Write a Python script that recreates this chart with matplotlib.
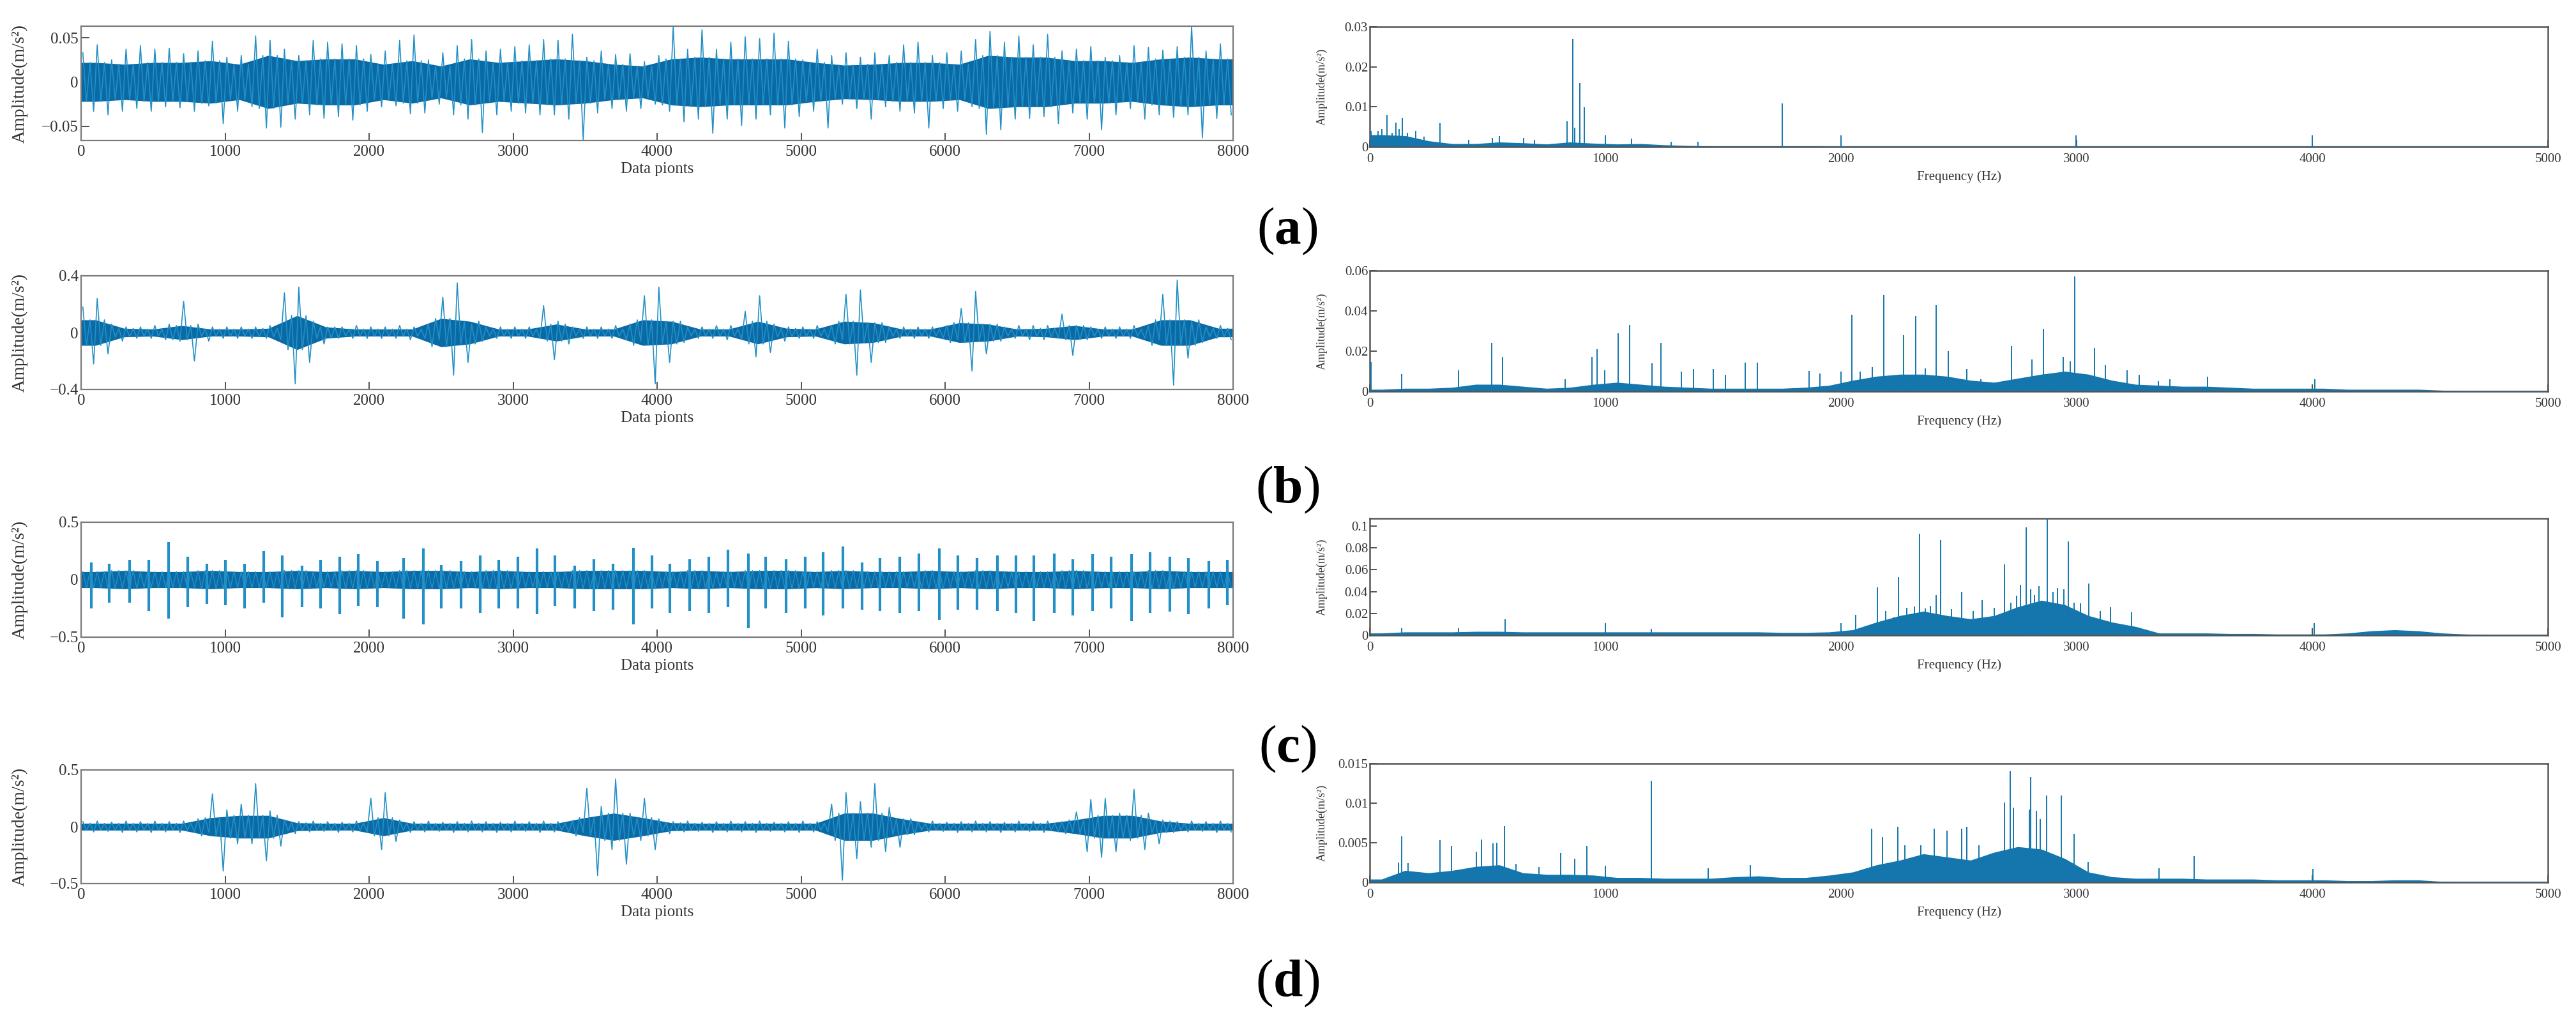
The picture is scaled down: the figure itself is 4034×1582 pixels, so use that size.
import numpy as np
import matplotlib
matplotlib.use("Agg")
import matplotlib.pyplot as plt
from matplotlib.ticker import FixedLocator, FixedFormatter

plt.rcParams['font.family'] = ['Liberation Serif', 'DejaVu Serif']
plt.rcParams['mathtext.fontset'] = 'custom'
plt.rcParams['mathtext.rm'] = 'Liberation Serif'
plt.rcParams['mathtext.bf'] = 'Liberation Serif:bold'

# ------------------------------------------------------------------
# DATA
# ------------------------------------------------------------------
BIN = 100      # data points per bin of the time-signal extremes
CBIN = 200     # data points per bin of the dense core band

# (a) normal condition: per-bin max / min and core band half-height
a_hi = [0.033, 0.042, 0.025, 0.037, 0.041, 0.037, 0.038, 0.032, 0.035, 0.046,
        0.028, 0.030, 0.052, 0.047, 0.037, 0.030, 0.047, 0.045, 0.043, 0.041,
        0.031, 0.035, 0.047, 0.053, 0.025, 0.033, 0.041, 0.048, 0.035, 0.037,
        0.040, 0.042, 0.048, 0.047, 0.054, 0.028, 0.035, 0.031, 0.032, 0.023,
        0.030, 0.063, 0.037, 0.059, 0.037, 0.045, 0.051, 0.049, 0.055, 0.046,
        0.025, 0.037, 0.030, 0.033, 0.028, 0.033, 0.030, 0.042, 0.045, 0.030,
        0.033, 0.035, 0.048, 0.057, 0.045, 0.052, 0.042, 0.054, 0.035, 0.037,
        0.040, 0.028, 0.030, 0.041, 0.039, 0.036, 0.040, 0.063, 0.035, 0.043]
a_lo = [-0.033, -0.037, -0.033, -0.030, -0.033, -0.028, -0.029, -0.033, -0.027, -0.047,
        -0.033, -0.028, -0.052, -0.051, -0.042, -0.037, -0.041, -0.039, -0.043, -0.033,
        -0.028, -0.027, -0.036, -0.035, -0.025, -0.037, -0.042, -0.057, -0.037, -0.033,
        -0.035, -0.037, -0.037, -0.042, -0.065, -0.035, -0.030, -0.033, -0.030, -0.025,
        -0.033, -0.045, -0.042, -0.058, -0.042, -0.049, -0.042, -0.037, -0.052, -0.039,
        -0.033, -0.052, -0.025, -0.030, -0.042, -0.028, -0.033, -0.035, -0.052, -0.030,
        -0.033, -0.028, -0.059, -0.054, -0.042, -0.041, -0.039, -0.047, -0.035, -0.042,
        -0.054, -0.037, -0.030, -0.042, -0.037, -0.040, -0.037, -0.063, -0.041, -0.037]
a_core = [0.022, 0.020, 0.022, 0.022, 0.024, 0.020, 0.030, 0.024, 0.026, 0.026,
          0.020, 0.024, 0.018, 0.026, 0.022, 0.024, 0.026, 0.024, 0.020, 0.018,
          0.026, 0.028, 0.026, 0.026, 0.026, 0.022, 0.019, 0.020, 0.022, 0.022,
          0.020, 0.030, 0.028, 0.028, 0.024, 0.024, 0.022, 0.026, 0.028, 0.026]

# (b)
b_hi = [0.18, 0.24, 0.06, 0.04, 0.04, 0.05, 0.06, 0.22, 0.06, 0.04,
        0.04, 0.04, 0.04, 0.05, 0.28, 0.32, 0.08, 0.04, 0.04, 0.05,
        0.04, 0.04, 0.05, 0.04, 0.06, 0.25, 0.35, 0.06, 0.04, 0.04,
        0.04, 0.04, 0.19, 0.08, 0.04, 0.04, 0.04, 0.05, 0.06, 0.26,
        0.32, 0.08, 0.04, 0.04, 0.05, 0.05, 0.15, 0.26, 0.06, 0.04,
        0.04, 0.05, 0.05, 0.27, 0.30, 0.07, 0.04, 0.04, 0.04, 0.04,
        0.05, 0.17, 0.29, 0.06, 0.04, 0.05, 0.05, 0.05, 0.13, 0.05,
        0.04, 0.04, 0.04, 0.05, 0.05, 0.27, 0.37, 0.08, 0.04, 0.05]
b_lo = [-0.22, -0.15, -0.06, -0.04, -0.04, -0.05, -0.06, -0.20, -0.06, -0.04,
        -0.04, -0.04, -0.04, -0.05, -0.36, -0.21, -0.08, -0.04, -0.04, -0.04,
        -0.04, -0.04, -0.05, -0.04, -0.05, -0.30, -0.21, -0.06, -0.04, -0.04,
        -0.04, -0.04, -0.19, -0.08, -0.04, -0.04, -0.04, -0.05, -0.06, -0.36,
        -0.21, -0.07, -0.04, -0.04, -0.05, -0.05, -0.17, -0.14, -0.06, -0.04,
        -0.04, -0.04, -0.05, -0.30, -0.21, -0.07, -0.04, -0.04, -0.04, -0.04,
        -0.05, -0.27, -0.15, -0.06, -0.04, -0.05, -0.05, -0.04, -0.16, -0.05,
        -0.04, -0.04, -0.04, -0.04, -0.05, -0.37, -0.18, -0.07, -0.04, -0.05]
b_core = [0.09, 0.03, 0.025, 0.05, 0.025, 0.025, 0.03, 0.12, 0.04, 0.025,
          0.025, 0.025, 0.10, 0.08, 0.025, 0.025, 0.06, 0.025, 0.025, 0.09,
          0.08, 0.025, 0.025, 0.08, 0.03, 0.025, 0.08, 0.07, 0.025, 0.025,
          0.07, 0.06, 0.025, 0.03, 0.05, 0.025, 0.025, 0.09, 0.09, 0.03]

# (c) periodic impulses: position, positive peak, negative peak
c_imp_pos = [73, 197, 339, 468, 609, 739, 875, 1004, 1134, 1269,
             1399, 1535, 1664, 1794, 1924, 2059, 2240, 2375, 2499, 2640,
             2770, 2900, 3035, 3165, 3289, 3430, 3560, 3695, 3837, 3966,
             4090, 4226, 4361, 4491, 4632, 4756, 4897, 5027, 5151, 5292,
             5422, 5546, 5687, 5817, 5958, 6088, 6223, 6364, 6494, 6618,
             6759, 6889, 7024, 7154, 7295, 7425, 7560, 7690, 7831, 7961]
c_imp_up = [0.15, 0.14, 0.17, 0.17, 0.33, 0.20, 0.14, 0.17, 0.14, 0.25,
            0.21, 0.12, 0.17, 0.20, 0.22, 0.16, 0.19, 0.27, 0.13, 0.16,
            0.21, 0.17, 0.20, 0.27, 0.21, 0.12, 0.18, 0.14, 0.28, 0.21,
            0.14, 0.18, 0.20, 0.26, 0.23, 0.20, 0.18, 0.20, 0.24, 0.29,
            0.15, 0.19, 0.20, 0.23, 0.27, 0.21, 0.19, 0.21, 0.21, 0.21,
            0.23, 0.18, 0.22, 0.20, 0.22, 0.24, 0.20, 0.19, 0.16, 0.17]
c_imp_dn = [-0.25, -0.20, -0.20, -0.27, -0.34, -0.24, -0.21, -0.22, -0.25, -0.20,
            -0.33, -0.24, -0.25, -0.30, -0.23, -0.24, -0.34, -0.39, -0.25, -0.25,
            -0.29, -0.25, -0.25, -0.30, -0.23, -0.25, -0.27, -0.26, -0.39, -0.25,
            -0.29, -0.27, -0.29, -0.24, -0.42, -0.25, -0.29, -0.25, -0.31, -0.25,
            -0.26, -0.27, -0.29, -0.27, -0.35, -0.26, -0.26, -0.27, -0.29, -0.36,
            -0.29, -0.31, -0.27, -0.25, -0.36, -0.29, -0.28, -0.30, -0.25, -0.22]
c_core = [0.07, 0.08, 0.07, 0.07, 0.08, 0.07, 0.07, 0.08, 0.07, 0.08,
          0.07, 0.08, 0.08, 0.07, 0.08, 0.07, 0.07, 0.08, 0.08, 0.08,
          0.07, 0.08, 0.07, 0.08, 0.08, 0.07, 0.08, 0.07, 0.07, 0.08,
          0.07, 0.08, 0.07, 0.07, 0.08, 0.07, 0.07, 0.08, 0.07, 0.07]

# (d)
d_hi = [0.045, 0.05, 0.04, 0.05, 0.045, 0.05, 0.045, 0.05, 0.07, 0.29,
        0.15, 0.20, 0.38, 0.14, 0.06, 0.045, 0.05, 0.045, 0.04, 0.05,
        0.25, 0.30, 0.06, 0.045, 0.05, 0.04, 0.045, 0.05, 0.045, 0.04,
        0.05, 0.045, 0.05, 0.045, 0.05, 0.34, 0.18, 0.42, 0.12, 0.25,
        0.07, 0.045, 0.05, 0.04, 0.045, 0.05, 0.045, 0.05, 0.04, 0.045,
        0.05, 0.045, 0.20, 0.30, 0.22, 0.38, 0.17, 0.07, 0.045, 0.05,
        0.04, 0.045, 0.05, 0.045, 0.04, 0.05, 0.045, 0.05, 0.045, 0.13,
        0.24, 0.25, 0.12, 0.33, 0.12, 0.06, 0.045, 0.05, 0.045, 0.05]
d_lo = [-0.045, -0.04, -0.05, -0.045, -0.05, -0.045, -0.05, -0.045, -0.05, -0.39,
        -0.15, -0.15, -0.30, -0.17, -0.06, -0.045, -0.04, -0.05, -0.045, -0.045,
        -0.20, -0.13, -0.05, -0.045, -0.04, -0.05, -0.045, -0.045, -0.05, -0.045,
        -0.04, -0.05, -0.045, -0.045, -0.05, -0.43, -0.20, -0.33, -0.12, -0.20,
        -0.06, -0.045, -0.04, -0.05, -0.045, -0.045, -0.05, -0.04, -0.045, -0.05,
        -0.045, -0.045, -0.47, -0.28, -0.18, -0.22, -0.18, -0.07, -0.045, -0.04,
        -0.05, -0.045, -0.045, -0.05, -0.045, -0.04, -0.05, -0.045, -0.045, -0.22,
        -0.27, -0.22, -0.12, -0.20, -0.15, -0.05, -0.045, -0.04, -0.05, -0.045]
d_core = [0.03, 0.03, 0.03, 0.03, 0.08, 0.10, 0.10, 0.035, 0.03, 0.03,
          0.08, 0.03, 0.03, 0.03, 0.03, 0.03, 0.03, 0.08, 0.12, 0.08,
          0.035, 0.03, 0.03, 0.03, 0.03, 0.03, 0.12, 0.12, 0.07, 0.03,
          0.03, 0.03, 0.03, 0.03, 0.06, 0.10, 0.10, 0.05, 0.03, 0.03]

# Spectra: dense floor per 100 Hz bin + discrete peaks (Hz, m/s^2)
FBIN = 100
fa_floor = [0.0030, 0.0028, 0.0015, 0.0008, 0.0008, 0.0012, 0.0010, 0.0007, 0.0012, 0.0009,
            0.0007, 0.0008, 0.0005, 0.0003, 0.0002, 0.0002, 0.0002, 0.0002, 0.0002, 0.0001,
            0.0001, 0.0001, 0.0001, 0.0001, 0.0001, 0.0001, 0.0001, 0.0001, 0.0001, 0.0001,
            0.0001, 0.0001, 0.0001, 0.0001, 0.0001, 0.0001, 0.0001, 0.0001, 0.0001, 0.0001,
            0.0001, 0.0001, 0.0001, 0.0001, 0.0001, 0.0001, 0.0001, 0.0001, 0.0001, 0.0001]
fa_pk_f = [5, 34, 52, 74, 95, 111, 125, 138, 160, 196, 230, 297, 420, 520, 550, 652, 700,
           837, 861, 871, 891, 911, 999, 1111, 1280, 1394, 1752, 1999, 2998, 4000]
fa_pk_a = [0.004, 0.004, 0.0045, 0.008, 0.0035, 0.0061, 0.0045, 0.0072, 0.0035, 0.004,
           0.0025, 0.0059, 0.0018, 0.0022, 0.0027, 0.0022, 0.0018,
           0.0064, 0.0269, 0.0048, 0.016, 0.0099, 0.0029, 0.0021, 0.0012, 0.0012, 0.0108,
           0.0029, 0.0029, 0.0029]

fb_floor = [0.0010, 0.0015, 0.0015, 0.0020, 0.0035, 0.0035, 0.0025, 0.0015, 0.0020, 0.0035,
            0.0045, 0.0035, 0.0025, 0.0020, 0.0015, 0.0015, 0.0015, 0.0015, 0.0020, 0.0030,
            0.0055, 0.0075, 0.0085, 0.0085, 0.0075, 0.0055, 0.0045, 0.0065, 0.0085, 0.0100,
            0.0085, 0.0055, 0.0035, 0.0030, 0.0025, 0.0025, 0.0020, 0.0015, 0.0015, 0.0015,
            0.0015, 0.0010, 0.0010, 0.0010, 0.0010, 0.0005, 0.0002, 0.0002, 0.0002, 0.0002]
fb_pk_f = [5, 135, 378, 517, 564, 830, 942, 966, 996, 1053, 1104, 1199, 1236, 1323, 1374,
           1458, 1509, 1593, 1644, 1864, 1911, 1999, 2046, 2080, 2134, 2181, 2265, 2316,
           2357, 2404, 2454, 2535, 2593, 2724, 2809, 2859, 2944, 2974, 2991, 3075, 3123,
           3214, 3265, 3346, 3396, 3555, 4011]
fb_pk_a = [0.0146, 0.0085, 0.0104, 0.024, 0.017, 0.006, 0.017, 0.021, 0.0104, 0.029, 0.033,
           0.014, 0.024, 0.0099, 0.011, 0.0112, 0.0083, 0.0143, 0.0144, 0.0102, 0.0088,
           0.0099, 0.038, 0.0099, 0.012, 0.048, 0.028, 0.0376, 0.0115, 0.043, 0.020, 0.0112,
           0.0061, 0.0226, 0.016, 0.031, 0.017, 0.015, 0.057, 0.0215, 0.013, 0.0104, 0.0083,
           0.0051, 0.006, 0.0074, 0.0061]

fc_floor = [0.0020, 0.0030, 0.0030, 0.0030, 0.0035, 0.0035, 0.0030, 0.0030, 0.0030, 0.0030,
            0.0030, 0.0030, 0.0030, 0.0030, 0.0030, 0.0030, 0.0030, 0.0025, 0.0025, 0.0030,
            0.0050, 0.0120, 0.0180, 0.0220, 0.0180, 0.0150, 0.0180, 0.0260, 0.0320, 0.0280,
            0.0180, 0.0120, 0.0080, 0.0020, 0.0020, 0.0020, 0.0015, 0.0015, 0.0010, 0.0010,
            0.0010, 0.0020, 0.0040, 0.0050, 0.0040, 0.0020, 0.0010, 0.0003, 0.0003, 0.0003]
fc_pk_f = [136, 378, 574, 999, 1195, 1999, 2063, 2154, 2190, 2222, 2245, 2280, 2313, 2333,
           2357, 2380, 2404, 2424, 2470, 2512, 2560, 2600, 2650, 2694, 2720, 2745, 2762,
           2785, 2805, 2820, 2839, 2876, 2900, 2920, 2945, 2964, 2990, 3015, 3052, 3100,
           3143, 3234, 4007]
fc_pk_a = [0.0065, 0.0065, 0.0148, 0.0113, 0.006, 0.0113, 0.0187, 0.044, 0.022, 0.0164,
           0.053, 0.025, 0.0265, 0.093, 0.0245, 0.027, 0.037, 0.087, 0.024, 0.040, 0.022,
           0.032, 0.025, 0.065, 0.030, 0.036, 0.046, 0.0986, 0.042, 0.037, 0.045, 0.107,
           0.040, 0.043, 0.042, 0.086, 0.030, 0.029, 0.0476, 0.022, 0.0255, 0.021, 0.0113]

fd_floor = [0.0004, 0.0015, 0.0012, 0.0015, 0.0020, 0.0022, 0.0012, 0.0010, 0.0010, 0.0009,
            0.0006, 0.0006, 0.0005, 0.0005, 0.0005, 0.0007, 0.0008, 0.0006, 0.0006, 0.0009,
            0.0013, 0.0022, 0.0028, 0.0036, 0.0032, 0.0028, 0.0038, 0.0045, 0.0042, 0.0030,
            0.0013, 0.0007, 0.0005, 0.0005, 0.0005, 0.0004, 0.0004, 0.0004, 0.0003, 0.0003,
            0.0003, 0.0002, 0.0002, 0.0003, 0.0003, 0.0001, 0.00005, 0.00005, 0.00005, 0.00005]
fd_pk_f = [122, 135, 162, 297, 348, 452, 473, 523, 540, 571, 621, 719, 810, 871, 922, 999,
           1195, 1435, 1614, 2130, 2177, 2242, 2272, 2340, 2397, 2451, 2512, 2535, 2586,
           2694, 2718, 2731, 2799, 2805, 2829, 2846, 2873, 2934, 2988, 3048, 3349, 3498, 4004]
fd_pk_a = [0.0025, 0.0058, 0.0024, 0.0053, 0.0046, 0.0039, 0.0054, 0.0049, 0.005, 0.0071,
           0.0023, 0.0019, 0.0037, 0.003, 0.0046, 0.0021, 0.0128, 0.0018, 0.0022, 0.0068,
           0.0057, 0.007, 0.0047, 0.0047, 0.0068, 0.0065, 0.0068, 0.007, 0.0047, 0.0101,
           0.014, 0.0094, 0.0092, 0.0133, 0.009, 0.008, 0.011, 0.011, 0.0061, 0.0026,
           0.0018, 0.0033, 0.0017]

time_ylim = [(-0.066, 0.063), (-0.4, 0.4), (-0.5, 0.5), (-0.5, 0.5)]
time_yticks = [[-0.05, 0, 0.05], [-0.4, 0, 0.4], [-0.5, 0, 0.5], [-0.5, 0, 0.5]]
time_ylabels = [['\u22120.05', '0', '0.05'], ['\u22120.4', '0', '0.4'],
                ['\u22120.5', '0', '0.5'], ['\u22120.5', '0', '0.5']]
spec_ylim = [0.03, 0.06, 0.107, 0.015]
spec_yticks = [[0, 0.01, 0.02, 0.03], [0, 0.02, 0.04, 0.06],
               [0, 0.02, 0.04, 0.06, 0.08, 0.1], [0, 0.005, 0.01, 0.015]]
spec_ylabels = [['0', '0.01', '0.02', '0.03'], ['0', '0.02', '0.04', '0.06'],
                ['0', '0.02', '0.04', '0.06', '0.08', '0.1'], ['0', '0.005', '0.01', '0.015']]
time_xticks = [0, 1000, 2000, 3000, 4000, 5000, 6000, 7000, 8000]
freq_xticks = [0, 1000, 2000, 3000, 4000, 5000]
panel_letters = ['a', 'b', 'c', 'd']

# ------------------------------------------------------------------
# STYLE / LAYOUT
# ------------------------------------------------------------------
W, H = 4034, 1582
fig = plt.figure(figsize=(W / 100, H / 100), dpi=100)

DARK = '#0a6aa6'
TRACE = '#2290c6'
SPEC = '#1476ad'
SPINE = '#7a7a7a'


def frac(x0, top, x1, bot):
    return [x0 / W, 1 - bot / H, (x1 - x0) / W, (bot - top) / H]


left_boxes = [frac(127, 41, 1931, 220), frac(127, 432, 1931, 610),
              frac(127, 818, 1931, 998), frac(127, 1206, 1931, 1384)]
right_boxes = [frac(2145, 42, 3990, 230), frac(2145, 424, 3990, 613),
               frac(2145, 812, 3990, 995), frac(2145, 1196, 3990, 1382)]
tag_y = [362, 767, 1173, 1540]


def style_axes(ax, spine_color, lw):
    for s in ax.spines.values():
        s.set_color(spine_color)
        s.set_linewidth(lw)


def dense_trace(ax, hi, lo, core, color, lw):
    """Per 100-point bin: max, -core, +core, min (all read values)."""
    n = len(hi)
    starts = np.arange(n) * BIN
    cv = np.asarray(core)[np.arange(n) * BIN // CBIN]
    xs = np.column_stack([starts + 12, starts + 37, starts + 62, starts + 87]).ravel()
    ys = np.column_stack([hi, -cv, cv, lo]).ravel()
    ax.plot(xs, ys, color=color, lw=lw, zorder=3)


def core_band(ax, core, color):
    xc = np.arange(len(core)) * CBIN + CBIN / 2
    xc = np.concatenate([[0], xc, [8000]])
    cv = np.concatenate([[core[0]], core, [core[-1]]])
    ax.fill_between(xc, -cv, cv, color=color, lw=0, zorder=2)


time_hi = [a_hi, b_hi, None, d_hi]
time_lo = [a_lo, b_lo, None, d_lo]
time_core = [a_core, b_core, c_core, d_core]
floors = [fa_floor, fb_floor, fc_floor, fd_floor]
peaks_f = [fa_pk_f, fb_pk_f, fc_pk_f, fd_pk_f]
peaks_a = [fa_pk_a, fb_pk_a, fc_pk_a, fd_pk_a]

for i in range(4):
    # ---------------- time domain ----------------
    ax = fig.add_axes(left_boxes[i])
    core_band(ax, time_core[i], DARK)
    if time_hi[i] is not None:
        dense_trace(ax, time_hi[i], time_lo[i], time_core[i], TRACE, 1.2)
    else:
        n = 80
        cv = np.asarray(c_core)[np.arange(n) * BIN // CBIN]
        dense_trace(ax, cv, -cv, c_core, TRACE, 1.0)
        ax.vlines(c_imp_pos, c_imp_dn, c_imp_up, color=TRACE, lw=3.0, zorder=3)
    ax.set_xlim(0, 8000)
    ax.set_ylim(*time_ylim[i])
    ax.xaxis.set_major_locator(FixedLocator(time_xticks))
    ax.xaxis.set_major_formatter(FixedFormatter([str(t) for t in time_xticks]))
    ax.yaxis.set_major_locator(FixedLocator(time_yticks[i]))
    ax.yaxis.set_major_formatter(FixedFormatter(time_ylabels[i]))
    ax.tick_params(direction='in', length=9, width=1.2, colors='#333333',
                   labelsize=18, pad=5)
    ax.tick_params(axis='y', pad=3)
    ax.set_xlabel('Data pionts', fontsize=18, labelpad=4, color='#333333')
    ax.set_ylabel('Amplitude(m/s\u00b2)', fontsize=20, color='#333333')
    ax.yaxis.set_label_coords(-0.046, 0.5)
    style_axes(ax, SPINE, 1.6)

    # ---------------- frequency domain ----------------
    axr = fig.add_axes(right_boxes[i])
    fl = np.asarray(floors[i])
    fx = np.arange(len(fl)) * FBIN + FBIN / 2
    fx = np.concatenate([[0], fx, [5000]])
    fy = np.concatenate([[fl[0]], fl, [fl[-1]]])
    axr.fill_between(fx, 0, fy, color=SPEC, lw=0, zorder=2)
    axr.vlines(peaks_f[i], 0, peaks_a[i], color=SPEC, lw=1.4, zorder=3)
    axr.axhline(0, color='#5cc3e6', lw=2.5, zorder=1.5)
    axr.set_xlim(0, 5000)
    axr.set_ylim(0, spec_ylim[i])
    axr.xaxis.set_major_locator(FixedLocator(freq_xticks))
    axr.xaxis.set_major_formatter(FixedFormatter([str(t) for t in freq_xticks]))
    axr.yaxis.set_major_locator(FixedLocator(spec_yticks[i]))
    axr.yaxis.set_major_formatter(FixedFormatter(spec_ylabels[i]))
    axr.tick_params(direction='in', length=8, width=1.2, colors='#333333',
                    labelsize=15, pad=7)
    axr.tick_params(axis='y', pad=2)
    axr.set_xlabel('Frequency (Hz)', fontsize=15, labelpad=6, color='#333333')
    axr.set_ylabel('Amplitude(m/s\u00b2)', fontsize=13, color='#333333')
    axr.yaxis.set_label_coords(-0.036, 0.5)
    style_axes(axr, '#555555', 1.8)

# panel tags: regular parentheses, bold letter
for i in range(4):
    fig.text(2016 / W, 1 - tag_y[i] / H, r'($\mathbf{%s}$)' % panel_letters[i],
             ha='center', va='center', fontsize=60, color='black')

fig.savefig('out.png', dpi=100)
